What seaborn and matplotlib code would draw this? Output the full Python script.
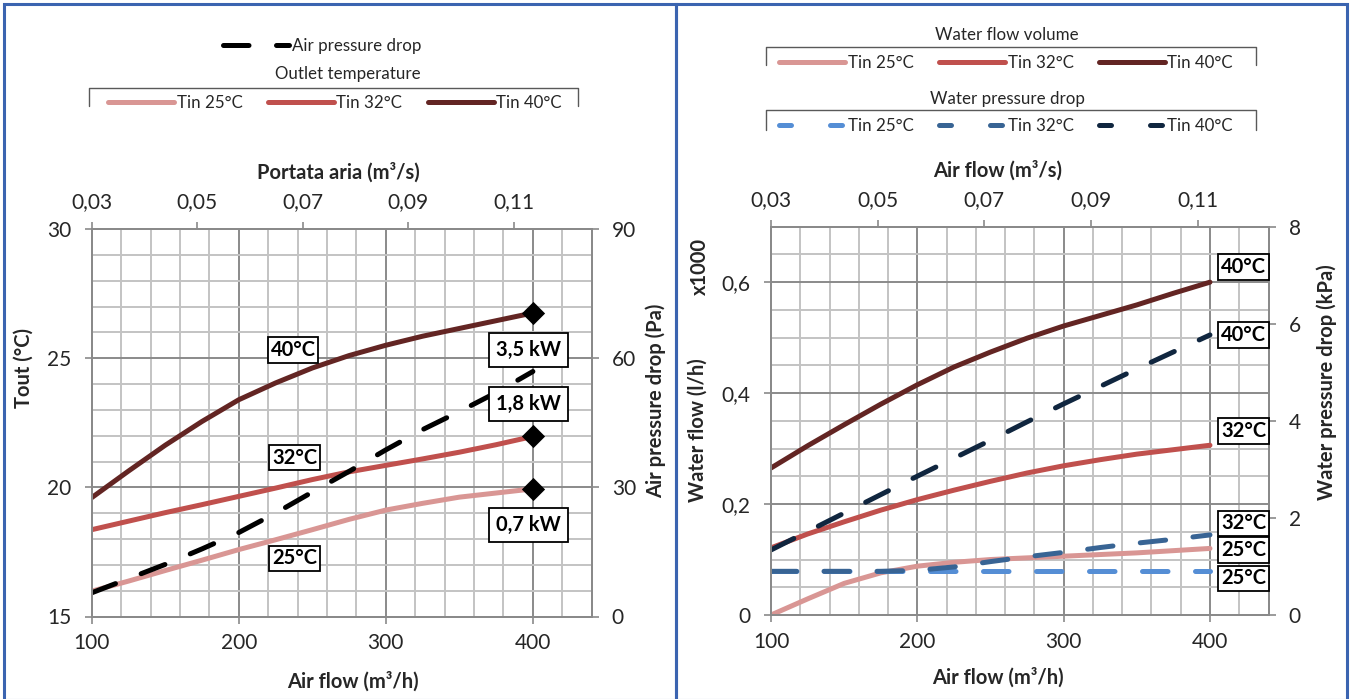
import matplotlib
matplotlib.use("Agg")
import matplotlib.pyplot as plt
from matplotlib.lines import Line2D
from matplotlib.patches import Rectangle
from matplotlib.ticker import MultipleLocator
import seaborn as sns

# ---- data ----
AIR_FLOW = [100, 125, 150, 175, 200, 225, 250, 275, 300, 325, 350, 375, 400]

# left chart: outlet temperature (°C) per inlet water temp, air pressure drop (Pa)
TOUT_25 = [15.98, 16.37, 16.78, 17.18, 17.59, 17.97, 18.36, 18.76, 19.12, 19.38, 19.62, 19.78, 19.94]
TOUT_32 = [18.36, 18.69, 19.02, 19.33, 19.65, 19.97, 20.3, 20.6, 20.85, 21.1, 21.36, 21.65, 21.97]
TOUT_40 = [19.6, 20.63, 21.63, 22.55, 23.39, 24.04, 24.62, 25.1, 25.5, 25.85, 26.15, 26.45, 26.75]
AIR_DP = [5.5, 8.8, 12.1, 15.7, 19.5, 24.0, 28.9, 33.7, 38.7, 43.4, 47.6, 52.0, 56.9]

CAP_FLOW = [400, 400, 400]
CAP_TOUT = [26.75, 21.97, 19.94]
CAP_LABELS = ["3,5 kW", "1,8 kW", "0,7 kW"]

# right chart: water flow (x1000 l/h) and water pressure drop (kPa)
WFLOW_25 = [0.0, 0.029, 0.057, 0.076, 0.088, 0.095, 0.1, 0.103, 0.106, 0.109, 0.112, 0.116, 0.12]
WFLOW_32 = [0.121, 0.146, 0.168, 0.189, 0.208, 0.225, 0.241, 0.256, 0.269, 0.28, 0.29, 0.298, 0.306]
WFLOW_40 = [0.265, 0.305, 0.343, 0.38, 0.415, 0.447, 0.474, 0.499, 0.521, 0.54, 0.559, 0.58, 0.6]
WDP_25 = [0.9, 0.9, 0.9, 0.9, 0.9, 0.9, 0.9, 0.9, 0.9, 0.9, 0.9, 0.9, 0.9]
WDP_32 = [0.9, 0.9, 0.9, 0.9, 0.92, 0.99, 1.1, 1.2, 1.29, 1.39, 1.48, 1.56, 1.65]
WDP_40 = [1.34, 1.72, 2.1, 2.48, 2.86, 3.23, 3.6, 3.98, 4.35, 4.71, 5.07, 5.42, 5.77]

TIN_LABELS = ["Tin 25°C", "Tin 32°C", "Tin 40°C"]
TOP_TICKS = [0.03, 0.05, 0.07, 0.09, 0.11]
TOP_TICKLABELS = ["0,03", "0,05", "0,07", "0,09", "0,11"]
FLOW_TICKS = [0, 0.2, 0.4, 0.6]
FLOW_TICKLABELS = ["0", "0,2", "0,4", "0,6"]

REDS = ["#D99694", "#C0504D", "#632523"]
BLUES = ["#558ED5", "#386494", "#10263F"]
GRID_MAJOR = "#8a8a8a"
GRID_MINOR = "#c3c3c3"
TEXT = "#262626"
W, H = 1351, 699

sns.set_style("white")
plt.rcParams["font.family"] = ["Lato", "DejaVu Sans"]

LW = 3.6
DASH = (0, (5.1, 5.5))
LABEL_FS = 14.5


def fpx(x, y):
    return x / W, 1 - y / H


def style_axes(ax, xminor, yminor):
    ax.xaxis.set_minor_locator(MultipleLocator(xminor))
    ax.yaxis.set_minor_locator(MultipleLocator(yminor))
    ax.grid(which="minor", color=GRID_MINOR, lw=1.4)
    ax.grid(which="major", color=GRID_MAJOR, lw=1.4)
    ax.set_axisbelow(True)
    ax.tick_params(which="minor", length=0)


def style_ticks(ax):
    ax.tick_params(which="major", direction="out", length=5, width=1.2,
                   color=GRID_MAJOR, labelsize=15, labelcolor=TEXT)
    ax.tick_params(axis="y", pad=9.5)
    ax.tick_params(axis="x", pad=7)
    for s in ax.spines.values():
        s.set_color(GRID_MAJOR)
        s.set_linewidth(1.4)


fig = plt.figure(figsize=(W / 100, H / 100), dpi=100)

# panel borders
fig.add_artist(Rectangle(fpx(4, 700), 672 / W, 696 / H, transform=fig.transFigure,
                         fill=False, ec="#3B64B0", lw=2.2))
fig.add_artist(Rectangle(fpx(676, 700), 671 / W, 696 / H, transform=fig.transFigure,
                         fill=False, ec="#3B64B0", lw=2.2))

# ================= left chart =================
ax1 = fig.add_axes([91.7 / W, 1 - 616.5 / H, 500 / W, 387.5 / H])
for y, c in zip([TOUT_25, TOUT_32, TOUT_40], REDS):
    sns.lineplot(x=AIR_FLOW, y=y, ax=ax1, color=c, linewidth=LW,
                 solid_capstyle="round", errorbar=None)
sns.scatterplot(x=CAP_FLOW, y=CAP_TOUT, ax=ax1, marker="D", s=140,
                color="black", linewidth=0, zorder=5)
ax1.set_xlim(100, 440)
ax1.set_ylim(15, 30)
ax1.xaxis.set_major_locator(MultipleLocator(100))
ax1.yaxis.set_major_locator(MultipleLocator(5))
style_axes(ax1, 20, 1)
style_ticks(ax1)
ax1.set_xlabel("Air flow (m³/h)", fontsize=LABEL_FS, fontweight="bold", color=TEXT)
ax1.xaxis.set_label_coords(0.522, -0.142)
ax1.set_ylabel("Tout (°C)", fontsize=LABEL_FS, fontweight="bold", color=TEXT)
ax1.yaxis.set_label_coords(-0.117, 0.64)

ax1r = ax1.twinx()
sns.lineplot(x=AIR_FLOW, y=AIR_DP, ax=ax1r, color="black", linewidth=LW,
             linestyle=DASH, dash_capstyle="round", errorbar=None)
ax1r.set_ylim(0, 90)
ax1r.yaxis.set_major_locator(MultipleLocator(30))
style_ticks(ax1r)
ax1r.set_ylabel("Air pressure drop (Pa)", fontsize=LABEL_FS, fontweight="bold", color=TEXT)
ax1r.yaxis.set_label_coords(1.107, 0.557)

ax1t = ax1.twiny()
ax1t.set_xlim(0.03, 0.1248)
ax1t.set_xticks(TOP_TICKS)
ax1t.set_xticklabels(TOP_TICKLABELS)
style_ticks(ax1t)
ax1t.set_xlabel("Portata aria (m³/s)", fontsize=LABEL_FS, fontweight="bold", color=TEXT)
ax1t.xaxis.set_label_coords(0.493, 1.13)

box_t = dict(boxstyle="square,pad=0.14", fc="white", ec="black", lw=1.3)
box_kw = dict(boxstyle="square,pad=0.34", fc="white", ec="black", lw=1.3)
for txt, (x, y) in zip(["40°C", "32°C", "25°C"], [(237, 25.32), (238, 21.15), (238, 17.25)]):
    ax1t.text(x, y, txt, transform=ax1.transData, ha="center", va="center",
              fontsize=LABEL_FS, fontweight="bold", color="black", bbox=box_t)
for txt, y in zip(CAP_LABELS, [25.32, 23.23, 18.54]):
    ax1t.text(397, y, txt, transform=ax1.transData, ha="center", va="center",
              fontsize=LABEL_FS, fontweight="bold", color="black", bbox=box_kw)

# ================= right chart =================
ax2 = fig.add_axes([771 / W, 1 - 615 / H, 497.5 / W, 388.3 / H])
for y, c in zip([WFLOW_25, WFLOW_32, WFLOW_40], REDS):
    sns.lineplot(x=AIR_FLOW, y=y, ax=ax2, color=c, linewidth=LW,
                 solid_capstyle="round", errorbar=None)
ax2.set_xlim(100, 440)
ax2.set_ylim(0, 0.7)
ax2.xaxis.set_major_locator(MultipleLocator(100))
ax2.set_yticks(FLOW_TICKS)
ax2.set_yticklabels(FLOW_TICKLABELS)
style_axes(ax2, 20, 0.05)
style_ticks(ax2)
ax2.set_xlabel("Air flow (m³/h)", fontsize=LABEL_FS, fontweight="bold", color=TEXT)
ax2.xaxis.set_label_coords(0.456, -0.136)
ax2.set_ylabel("Water flow (l/h)", fontsize=LABEL_FS, fontweight="bold", color=TEXT)
ax2.yaxis.set_label_coords(-0.127, 0.475)
ax2.text(-0.143, 0.897, "x1000", transform=ax2.transAxes, rotation=90,
         ha="center", va="center", fontsize=LABEL_FS, fontweight="bold", color=TEXT)

ax2r = ax2.twinx()
for y, c in zip([WDP_25, WDP_32, WDP_40], BLUES):
    sns.lineplot(x=AIR_FLOW, y=y, ax=ax2r, color=c, linewidth=LW,
                 linestyle=DASH, dash_capstyle="round", errorbar=None)
ax2r.set_ylim(0, 8)
ax2r.yaxis.set_major_locator(MultipleLocator(2))
style_ticks(ax2r)
ax2r.set_ylabel("Water pressure drop (kPa)", fontsize=LABEL_FS, fontweight="bold", color=TEXT)
ax2r.yaxis.set_label_coords(1.096, 0.601)

ax2t = ax2.twiny()
ax2t.set_xlim(0.03, 0.1233)
ax2t.set_xticks(TOP_TICKS)
ax2t.set_xticklabels(TOP_TICKLABELS)
style_ticks(ax2t)
ax2t.set_xlabel("Air flow (m³/s)", fontsize=LABEL_FS, fontweight="bold", color=TEXT)
ax2t.xaxis.set_label_coords(0.456, 1.13)

for txt, y in zip(["40°C", "40°C", "32°C", "32°C", "25°C", "25°C"],
                  [0.627, 0.505, 0.332, 0.165, 0.117, 0.066]):
    ax2t.text(423, y, txt, transform=ax2.transData, ha="center", va="center",
              fontsize=LABEL_FS, fontweight="bold", color="black", bbox=box_t)

# ================= legends =================
LEG_FS = 12.2
solid_h = [Line2D([], [], color=c, lw=LW, solid_capstyle="round") for c in REDS]
dash_h = [Line2D([], [], color=c, lw=LW, linestyle=(0, (2.4, 7.8)),
                 dash_capstyle="round") for c in BLUES]
air_h = Line2D([], [], color="black", lw=LW, linestyle=DASH, dash_capstyle="round")

legkw = dict(loc="center", frameon=False, fontsize=LEG_FS, handlelength=3.9,
             handletextpad=0.15, columnspacing=1.5, borderpad=0,
             labelcolor=TEXT)
fig.legend([air_h], ["Air pressure drop"], bbox_to_anchor=fpx(322, 46), **legkw)
fig.legend(solid_h, TIN_LABELS, ncol=3, bbox_to_anchor=fpx(335, 103), **legkw)
fig.legend(solid_h, TIN_LABELS, ncol=3, bbox_to_anchor=fpx(1006, 63), **legkw)
fig.legend(dash_h, TIN_LABELS, ncol=3, bbox_to_anchor=fpx(1006, 126), **legkw)

for txt, (x, y) in [("Outlet temperature", (348, 74)),
                    ("Water flow volume", (1007, 35)),
                    ("Water pressure drop", (1007, 99))]:
    fig.text(*fpx(x, y), txt, ha="center", va="center", fontsize=LEG_FS, color=TEXT)

for x0, x1, ytop, ybot in [(89, 578, 87.5, 106), (766, 1256, 47, 65), (766, 1256, 110, 130)]:
    xs = [x0, x0, x1, x1]
    ys = [ybot, ytop, ytop, ybot]
    fig.add_artist(Line2D([x / W for x in xs], [1 - y / H for y in ys],
                          transform=fig.transFigure, color="#595959", lw=1.0))

fig.savefig("out.png", dpi=100)
